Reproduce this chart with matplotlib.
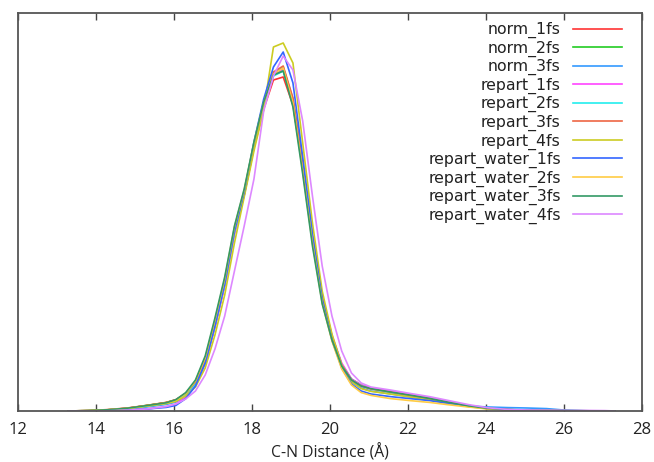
import matplotlib
matplotlib.use("Agg")
import matplotlib.pyplot as plt

distance = [13.30, 13.80, 14.30, 14.80, 15.30, 15.80, 16.05, 16.30, 16.55, 16.80,
            17.05, 17.30, 17.55, 17.80, 18.05, 18.30, 18.55, 18.80, 19.05, 19.30,
            19.55, 19.80, 20.05, 20.30, 20.55, 20.80, 21.05, 21.55, 22.05, 22.55,
            23.05, 23.55, 24.05, 24.55, 25.05, 25.55, 26.05, 26.55, 27.05, 27.30]

norm_1fs = [0.00, 0.02, 0.06, 0.14, 0.27, 0.42, 0.56, 0.86, 1.38, 2.45, 4.25, 6.30, 8.90, 10.80, 13.15, 15.10, 16.55, 16.70, 15.30, 12.20, 8.70, 5.70, 3.70, 2.30, 1.55, 1.25, 1.12, 0.97, 0.80, 0.63, 0.43, 0.25, 0.12, 0.07, 0.04, 0.02, 0.01, 0.00, 0.00, 0.00]
norm_2fs = [0.00, 0.02, 0.06, 0.13, 0.28, 0.42, 0.55, 0.85, 1.40, 2.50, 4.35, 6.40, 9.00, 10.85, 13.25, 15.30, 16.80, 17.05, 15.50, 12.25, 8.65, 5.65, 3.75, 2.35, 1.60, 1.30, 1.15, 0.98, 0.80, 0.65, 0.45, 0.28, 0.15, 0.08, 0.05, 0.03, 0.02, 0.01, 0.00, 0.00]
norm_3fs = [0.00, 0.01, 0.04, 0.10, 0.20, 0.33, 0.45, 0.75, 1.30, 2.40, 4.20, 6.30, 8.95, 10.90, 13.30, 15.40, 16.90, 17.20, 15.60, 12.30, 8.70, 5.60, 3.65, 2.25, 1.45, 1.15, 1.00, 0.85, 0.72, 0.58, 0.40, 0.25, 0.20, 0.17, 0.15, 0.12, 0.04, 0.01, 0.00, 0.00]
repart_1fs = [0.00, 0.00, 0.02, 0.05, 0.10, 0.22, 0.35, 0.70, 1.30, 2.40, 4.20, 6.25, 8.85, 10.80, 13.20, 15.25, 16.85, 17.10, 15.55, 12.30, 8.75, 5.75, 3.80, 2.40, 1.60, 1.30, 1.15, 1.00, 0.82, 0.65, 0.45, 0.27, 0.13, 0.07, 0.04, 0.02, 0.01, 0.00, 0.00, 0.00]
repart_2fs = [0.00, 0.01, 0.05, 0.12, 0.24, 0.38, 0.50, 0.80, 1.35, 2.45, 4.30, 6.35, 8.95, 10.85, 13.20, 15.25, 16.75, 17.00, 15.45, 12.20, 8.60, 5.60, 3.70, 2.30, 1.55, 1.25, 1.10, 0.93, 0.77, 0.62, 0.42, 0.26, 0.14, 0.08, 0.05, 0.03, 0.01, 0.00, 0.00, 0.00]
repart_3fs = [0.00, 0.02, 0.07, 0.15, 0.28, 0.43, 0.57, 0.88, 1.45, 2.55, 4.40, 6.45, 9.05, 10.95, 13.35, 15.40, 16.95, 17.25, 15.65, 12.35, 8.70, 5.65, 3.70, 2.30, 1.55, 1.25, 1.10, 0.95, 0.78, 0.62, 0.43, 0.26, 0.13, 0.07, 0.04, 0.02, 0.01, 0.00, 0.00, 0.00]
repart_4fs = [0.00, 0.01, 0.05, 0.12, 0.24, 0.37, 0.48, 0.75, 1.20, 2.15, 3.80, 5.80, 8.40, 10.70, 13.00, 15.05, 18.20, 18.40, 17.40, 13.40, 9.40, 6.00, 3.85, 2.30, 1.45, 1.12, 0.98, 0.85, 0.70, 0.55, 0.38, 0.22, 0.11, 0.06, 0.03, 0.02, 0.01, 0.00, 0.00, 0.00]
repart_water_1fs = [0.00, 0.00, 0.02, 0.05, 0.10, 0.18, 0.28, 0.62, 1.25, 2.40, 4.25, 6.35, 9.00, 10.95, 13.45, 15.60, 17.20, 17.95, 16.40, 12.70, 8.80, 5.60, 3.55, 2.15, 1.35, 1.00, 0.85, 0.72, 0.62, 0.52, 0.38, 0.24, 0.12, 0.07, 0.04, 0.02, 0.01, 0.00, 0.00, 0.00]
repart_water_2fs = [0.00, 0.02, 0.06, 0.13, 0.26, 0.40, 0.54, 0.88, 1.50, 2.65, 4.55, 6.60, 9.20, 11.05, 13.40, 15.40, 16.85, 17.15, 15.40, 12.00, 8.40, 5.40, 3.50, 2.10, 1.30, 0.92, 0.78, 0.62, 0.52, 0.43, 0.31, 0.20, 0.10, 0.06, 0.03, 0.02, 0.01, 0.00, 0.00, 0.00]
repart_water_3fs = [0.00, 0.02, 0.06, 0.14, 0.27, 0.41, 0.57, 0.92, 1.55, 2.75, 4.65, 6.70, 9.25, 11.10, 13.45, 15.45, 16.80, 17.00, 15.20, 11.85, 8.25, 5.35, 3.55, 2.25, 1.55, 1.25, 1.12, 0.95, 0.80, 0.63, 0.43, 0.26, 0.13, 0.07, 0.04, 0.03, 0.02, 0.01, 0.00, 0.00]
repart_water_4fs = [0.00, 0.00, 0.01, 0.04, 0.10, 0.22, 0.35, 0.60, 1.00, 1.80, 3.10, 4.75, 7.00, 9.25, 11.60, 15.00, 16.75, 17.75, 17.05, 14.50, 10.75, 7.25, 4.75, 3.00, 1.90, 1.40, 1.20, 1.05, 0.88, 0.72, 0.52, 0.32, 0.16, 0.08, 0.05, 0.04, 0.03, 0.03, 0.02, 0.00]

labels = ["norm_1fs", "norm_2fs", "norm_3fs", "repart_1fs", "repart_2fs",
          "repart_3fs", "repart_4fs", "repart_water_1fs", "repart_water_2fs",
          "repart_water_3fs", "repart_water_4fs"]
series = [norm_1fs, norm_2fs, norm_3fs, repart_1fs, repart_2fs, repart_3fs,
          repart_4fs, repart_water_1fs, repart_water_2fs, repart_water_3fs,
          repart_water_4fs]
colors = ["#ff3333", "#22cc22", "#3399ff", "#ff44ff", "#22eeee", "#ee6644",
          "#cccc22", "#3366ff", "#ffcc44", "#339966", "#dd88ff"]

xticks = [12, 14, 16, 18, 20, 22, 24, 26, 28]

fig = plt.figure(figsize=(6.54, 4.62), dpi=100)
ax = fig.add_axes([18/654, 1-411/462, 624/654, 398/462])

for ys, lab, c in zip(series, labels, colors):
    ax.plot(distance, ys, color=c, lw=1.2, label=lab)

ax.set_xlim(12, 28)
ax.set_ylim(0, 19.9)
ax.set_xticks(xticks)
ax.set_xticklabels([str(t) for t in xticks], family="Open Sans", fontsize=12, color="#222222")
ax.set_yticks([])
ax.tick_params(axis="x", direction="in", length=5, width=1, top=True, color="#444444", pad=8)
for s in ax.spines.values():
    s.set_color("#555555")
    s.set_linewidth(1.3)

ax.set_xlabel("C-N Distance (Å)", family="Open Sans", fontsize=11.3, color="#222222", labelpad=4)

leg = ax.legend(loc="upper right", bbox_to_anchor=((622-18)/624, (411-22)/398),
                frameon=False, markerfirst=False, fontsize=11.3,
                handlelength=3.1, handletextpad=0.8, labelspacing=0.15,
                borderpad=0, borderaxespad=0)
for t in leg.get_texts():
    t.set_color("#222222")

fig.savefig("out.png", dpi=100)
